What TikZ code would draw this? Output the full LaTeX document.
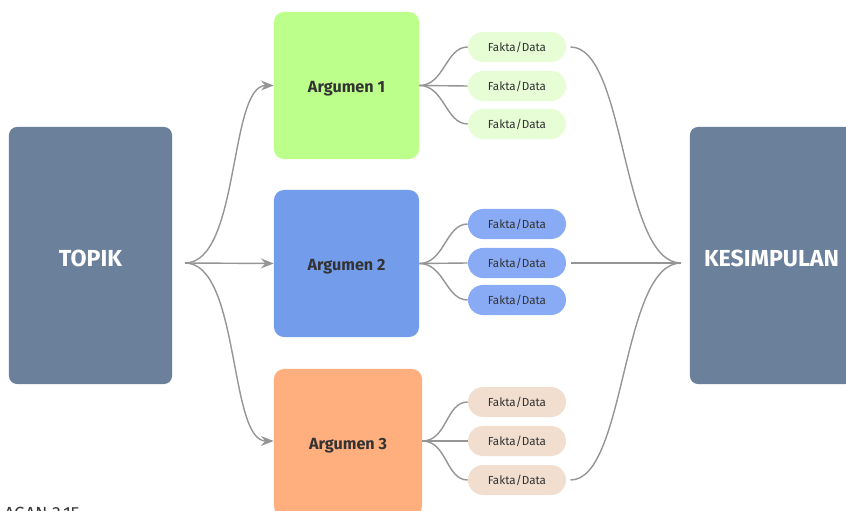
\documentclass[tikz,border=0pt]{standalone}
\usepackage{fontspec}
\setmainfont{Fira Sans}
\usetikzlibrary{arrows.meta}
\definecolor{slate}{HTML}{6B809B}
\definecolor{argA}{HTML}{BCFF8A}
\definecolor{argB}{HTML}{739CEB}
\definecolor{argC}{HTML}{FFAE7E}
\definecolor{pillA}{HTML}{E6FDD6}
\definecolor{pillB}{HTML}{89ABF6}
\definecolor{pillC}{HTML}{F1DECF}
\definecolor{ink}{HTML}{333333}
\definecolor{wire}{HTML}{959595}

\begin{document}
\begin{tikzpicture}[x=0.025cm, y=-0.025cm, >={Stealth[length=9pt, width=7pt]},
	endbox/.style={fill=slate, rounded corners=0.2cm, minimum width=4.075cm, minimum height=6.425cm, text=white, text height=16pt, text depth=0pt, font=\bfseries\fontsize{16.5}{19}\selectfont},
	argbox/.style={rounded corners=0.25cm, minimum width=3.625cm, minimum height=3.675cm, text=ink, text height=10.5pt, text depth=0pt, font=\bfseries\fontsize{11.5}{14}\selectfont},
	pill/.style={rounded corners=0.375cm, minimum width=2.45cm, minimum height=0.75cm, text=ink, text height=6.5pt, text depth=0pt, font=\fontsize{8.3}{10}\selectfont},
	link/.style={draw=wire, line width=1pt}]
	  			\useasboundingbox (0,0) rectangle (846,511);

	  			\node[endbox] (topik) at (90.5,255.5) {TOPIK};
	  			\node[endbox] (kesimpulan) at (771.5,255.5) {KESIMPULAN};

	  			\node[argbox, fill=argA] (arg1) at (346.5,85.5) {Argumen 1};
	  			\node[argbox, fill=argB] (arg2) at (346.5,263.5) {Argumen 2};
	  			\node[argbox, fill=argC, minimum width=3.7cm] (arg3) at (348,442.5) {Argumen 3};

	  			\node[pill, fill=pillA] (f11) at (517,47) {Fakta/Data};
	  			\node[pill, fill=pillA] (f12) at (517,86) {Fakta/Data};
	  			\node[pill, fill=pillA] (f13) at (517,124) {Fakta/Data};
	  			\node[pill, fill=pillB] (f21) at (517,224) {Fakta/Data};
	  			\node[pill, fill=pillB] (f22) at (517,263) {Fakta/Data};
	  			\node[pill, fill=pillB] (f23) at (517,300) {Fakta/Data};
	  			\node[pill, fill=pillC] (f31) at (517,402) {Fakta/Data};
	  			\node[pill, fill=pillC] (f32) at (517,441) {Fakta/Data};
	  			\node[pill, fill=pillC] (f33) at (517,480) {Fakta/Data};

	  			\coordinate (fork) at (185,263);
	  			\coordinate (join) at (681,263);

	  			\draw[link, ->] (fork) .. controls +(55,0) and +(-45,0) .. (arg1.west);
	  			\draw[link, ->] (fork) -- (arg2.west);
	  			\draw[link, ->] (fork) .. controls +(55,0) and +(-45,0) .. (arg3.west |- f32.west);

	  			\draw[link] (arg1.east) .. controls +(25,0) and +(-22,0) .. (f11.west);
	  			\draw[link] (arg1.east) -- (f12.west);
	  			\draw[link] (arg1.east) .. controls +(25,0) and +(-22,0) .. (f13.west);
	  			\draw[link] (arg2.east) .. controls +(25,0) and +(-22,0) .. (f21.west);
	  			\draw[link] (arg2.east) -- (f22.west);
	  			\draw[link] (arg2.east) .. controls +(25,0) and +(-22,0) .. (f23.west);
	  			\draw[link] (arg3.east |- f32.west) .. controls +(25,0) and +(-22,0) .. (f31.west);
	  			\draw[link] (arg3.east |- f32.west) -- (f32.west);
	  			\draw[link] (arg3.east |- f32.west) .. controls +(25,0) and +(-22,0) .. (f33.west);

	  			\draw[link, shorten <=3pt] (f11.east) .. controls +(60,0) and +(-60,0) .. (join);
	  			\draw[link, shorten <=3pt] (f22.east) -- (join);
	  			\draw[link, shorten <=3pt] (f33.east) .. controls +(60,0) and +(-60,0) .. (join);

	  			\node[anchor=north west, inner sep=0, text=ink, font=\fontsize{12.5}{14}\selectfont] (caption) at (4,507) {AGAN 3.15};
	  		\end{tikzpicture}
\end{document}
